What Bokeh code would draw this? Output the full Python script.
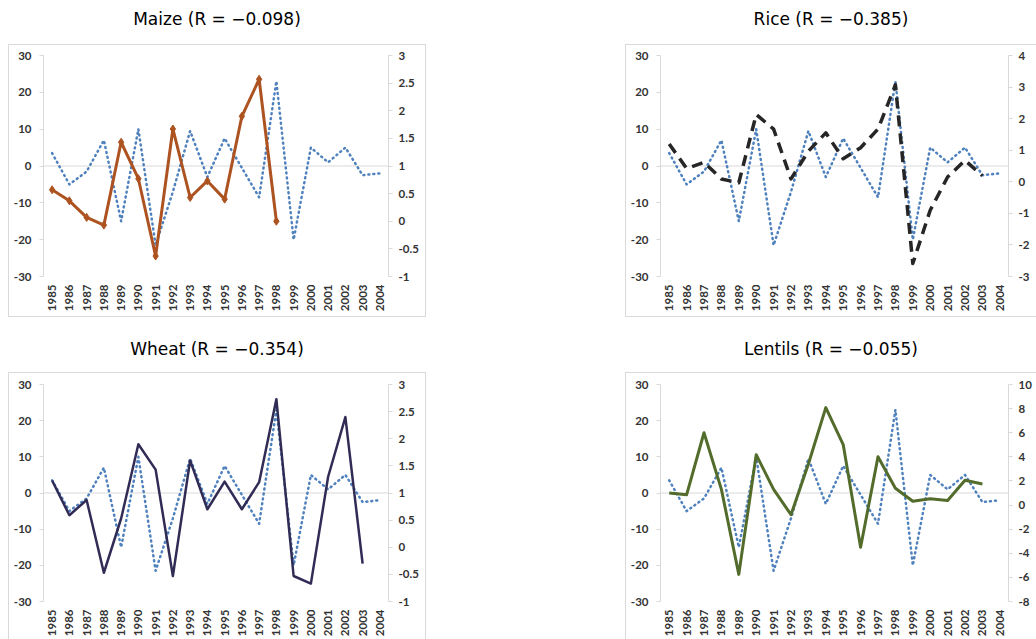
import math
from bokeh.plotting import figure
from bokeh.models import (Range1d, LinearAxis, FixedTicker, NumeralTickFormatter,
                          BasicTickFormatter, Span, Div, Spacer)
from bokeh.layouts import row, column
from bokeh.embed import file_html
from bokeh.resources import INLINE

# ---------------- data ----------------
years = list(range(1985, 2005))
# dotted blue series (left axis, same in every panel)
rainfall = [3.5, -5, -1.5, 7, -15, 10, -21.5, -7, 9.5, -3, 7.5, -0.5, -8.5, 23, -20, 5, 1, 5, -2.5, -2]

# crop series (right axis units)
maize = [0.57, 0.37, 0.07, -0.07, 1.43, 0.77, -0.63, 1.67, 0.43, 0.73, 0.40, 1.90, 2.57, 0.00]
rice = [1.20, 0.42, 0.62, 0.09, -0.03, 2.13, 1.67, 0.09, 0.97, 1.55, 0.73, 1.08, 1.67, 3.07,
        -2.59, -0.90, 0.15, 0.68, 0.19]
wheat = [1.23, 0.59, 0.87, -0.47, 0.53, 1.90, 1.43, -0.53, 1.60, 0.70, 1.21, 0.70, 1.20, 2.73,
         -0.53, -0.67, 1.30, 2.40, -0.30]
lentils = [1.00, 0.85, 6.00, 1.30, -5.75, 4.18, 1.30, -0.80, 3.40, 8.08, 5.02, -3.50, 4.00, 1.39,
           0.31, 0.52, 0.37, 2.05, 1.75]

left_ticks = [-30, -20, -10, 0, 10, 20, 30]
maize_ticks = [-1, -0.5, 0, 0.5, 1, 1.5, 2, 2.5, 3]
rice_ticks = [-3, -2, -1, 0, 1, 2, 3, 4]
wheat_ticks = [-1, -0.5, 0, 0.5, 1, 1.5, 2, 2.5, 3]
lentil_ticks = [-8, -6, -4, -2, 0, 2, 4, 6, 8, 10]

titles = ["Maize (R = \u22120.098)", "Rice (R = \u22120.385)",
          "Wheat (R = \u22120.354)", "Lentils (R = \u22120.055)"]

AXIS_GREY = "#d9d9d9"
LABEL_GREY = "#333333"
BLUE = "#4f81bd"


def style_axis(ax):
    ax.major_label_text_font = "Lato"
    ax.major_label_text_font_style = "bold"
    ax.major_label_text_font_size = "11.5px"
    ax.major_label_text_color = LABEL_GREY
    ax.minor_tick_line_color = None


def make_fig(vals, rlo, rhi, rticks, color, dash, lw, marker, w, h, bl, br, bt, bb):
    p = figure(width=w, height=h, x_range=Range1d(1984.5, 2004.5), y_range=Range1d(-30, 30),
               output_backend="svg", toolbar_location=None,
               min_border_left=bl, min_border_right=br, min_border_top=bt, min_border_bottom=bb,
               outline_line_color=None, background_fill_color="white", border_fill_color="white")
    p.xgrid.visible = False
    p.ygrid.visible = False
    p.extra_y_ranges = {"r": Range1d(rlo, rhi)}

    # x axis (years, vertical labels)
    xa = p.xaxis[0]
    xa.ticker = FixedTicker(ticks=years)
    xa.formatter = BasicTickFormatter(use_scientific=False)
    xa.major_label_orientation = math.pi / 2
    xa.axis_line_color = None
    xa.major_tick_line_color = None
    xa.major_tick_out = 0
    xa.major_tick_in = 0
    xa.major_label_standoff = 8
    style_axis(xa)

    # left axis
    ya = p.yaxis[0]
    ya.ticker = FixedTicker(ticks=left_ticks)
    ya.formatter = NumeralTickFormatter(format="0")
    ya.axis_line_color = AXIS_GREY
    ya.major_tick_line_color = AXIS_GREY
    ya.major_tick_out = 4
    ya.major_tick_in = 0
    ya.major_label_standoff = 8
    style_axis(ya)

    # right axis
    ra = LinearAxis(y_range_name="r", ticker=FixedTicker(ticks=rticks),
                    formatter=NumeralTickFormatter(format="0.[0]"))
    ra.axis_line_color = AXIS_GREY
    ra.major_tick_line_color = AXIS_GREY
    ra.major_tick_out = 4
    ra.major_tick_in = 0
    ra.major_label_standoff = 6
    style_axis(ra)
    p.add_layout(ra, "right")

    # zero (category axis) line
    p.add_layout(Span(location=0, dimension="width", line_color=AXIS_GREY, line_width=1,
                      level="underlay"))

    p.line(years, rainfall, line_color=BLUE, line_width=2.5, line_dash="1 4", line_cap="round",
           line_join="round")
    xs = years[:len(vals)]
    p.line(xs, vals, y_range_name="r", line_color=color, line_width=lw, line_dash=dash,
           line_join="round")
    if marker:
        p.scatter(xs, vals, y_range_name="r", marker="diamond", size=8, color=color)
    p.styles = {"box-shadow": "0 0 0 1px #d9d9d9"}
    return p


def title_div(text, w, h, pad):
    html = ('<div style="width:%dpx;text-align:center;font-family:\'DejaVu Sans\';'
            'font-size:17px;color:#000;padding-top:%dpx;white-space:nowrap;">%s</div>'
            % (w, pad, text))
    return Div(text=html, width=w, height=h, margin=0)


LW, RW = 416, 410

f_maize = make_fig(maize, -1, 3, maize_ticks, "#ad5321", "solid", 3, True, LW, 271, 34, 37, 10, 40)
f_rice = make_fig(rice, -3, 4, rice_ticks, "#262626", "11 7", 3.5, False, RW, 271, 34, 28, 10, 40)
f_wheat = make_fig(wheat, -1, 3, wheat_ticks, "#312c55", "solid", 2.5, False, LW, 266, 34, 37, 11, 34)
f_lent = make_fig(lentils, -8, 10, lentil_ticks, "#536c2b", "solid", 3, False, RW, 266, 34, 28, 11, 34)

top = row(Spacer(width=9, height=316),
          column(title_div(titles[0], LW, 45, 7), f_maize),
          Spacer(width=201, height=316),
          column(title_div(titles[1], RW, 45, 7), f_rice))
bottom = row(Spacer(width=9, height=323),
             column(title_div(titles[2], LW, 57, 21), f_wheat),
             Spacer(width=201, height=323),
             column(title_div(titles[3], RW, 57, 21), f_lent))
layout = column(top, bottom)

open("out.html", "w").write(file_html(layout, INLINE))
